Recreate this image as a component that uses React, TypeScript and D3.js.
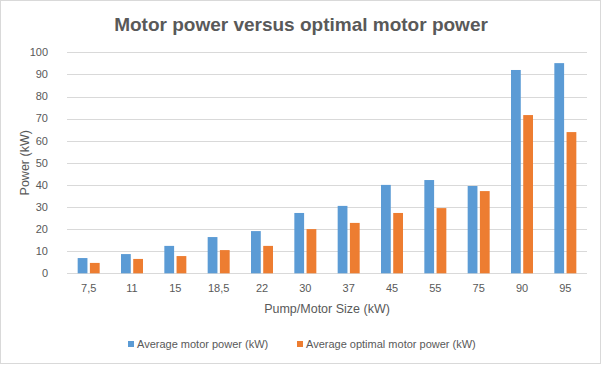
import { useEffect, useRef } from "react";
import * as d3 from "d3";

const categories = ["7,5", "11", "15", "18,5", "22", "30", "37", "45", "55", "75", "90", "95"];
const seriesNames = ["Average motor power (kW)", "Average optimal motor power (kW)"];
const avgPower = [6.9, 8.7, 12.4, 16.4, 19.1, 27.3, 30.5, 40.0, 42.2, 39.5, 92.0, 95.1];
const optimalPower = [4.7, 6.5, 7.8, 10.5, 12.4, 20.0, 22.8, 27.3, 29.5, 37.2, 71.6, 63.9];
const yTicks = [0, 10, 20, 30, 40, 50, 60, 70, 80, 90, 100];
const colors = ["#5b9bd5", "#ed7d31"];

const FONT = "'Liberation Sans', Arial, sans-serif";
const TEXT = "#595959";

export default function App() {
  const ref = useRef<SVGSVGElement | null>(null);

  useEffect(() => {
    document.body.style.margin = "0";
    if (!ref.current) return;
    const width = 602;
    const height = 365;
    const svg = d3.select(ref.current);
    svg.selectAll("*").remove();
    svg.attr("width", width).attr("height", height).style("font-family", FONT);

    const plot = { left: 67, right: 587, top: 52.3, bottom: 273.3 };

    // chart border
    svg.append("rect")
      .attr("x", 0.5).attr("y", 0.5)
      .attr("width", 600).attr("height", 363)
      .attr("fill", "white")
      .attr("stroke", "#d9d9d9");

    const x0 = d3.scaleBand<string>()
      .domain(categories)
      .range([plot.left, plot.right])
      .padding(0);

    const x1 = d3.scaleBand<number>()
      .domain([0, 1])
      .range([-11, 11])
      .paddingInner(0.2)
      .paddingOuter(0);

    const y = d3.scaleLinear()
      .domain([0, 100])
      .range([plot.bottom, plot.top]);

    // gridlines
    svg.append("g")
      .selectAll("line")
      .data(yTicks)
      .join("line")
      .attr("x1", plot.left)
      .attr("x2", plot.right)
      .attr("y1", d => Math.round(y(d)) + 0.5)
      .attr("y2", d => Math.round(y(d)) + 0.5)
      .attr("stroke", "#d9d9d9")
      .attr("stroke-width", 1);

    // y tick labels
    svg.append("g")
      .selectAll("text")
      .data(yTicks)
      .join("text")
      .attr("x", 48)
      .attr("y", d => y(d))
      .attr("dy", "0.35em")
      .attr("text-anchor", "end")
      .attr("font-size", 11)
      .attr("fill", TEXT)
      .text(d => d);

    // bars
    const series = [avgPower, optimalPower];
    series.forEach((vals, si) => {
      svg.append("g")
        .selectAll("rect")
        .data(vals)
        .join("rect")
        .attr("x", (_, i) => x0(categories[i])! + x0.bandwidth() / 2 + x1(si)!)
        .attr("y", d => y(d))
        .attr("width", x1.bandwidth())
        .attr("height", d => y(0) - y(d))
        .attr("fill", colors[si]);
    });

    // x tick labels
    svg.append("g")
      .selectAll("text")
      .data(categories)
      .join("text")
      .attr("x", d => x0(d)! + x0.bandwidth() / 2)
      .attr("y", 292)
      .attr("text-anchor", "middle")
      .attr("font-size", 11)
      .attr("fill", TEXT)
      .text(d => d);

    // title
    svg.append("text")
      .attr("x", 301)
      .attr("y", 31)
      .attr("text-anchor", "middle")
      .attr("font-size", 19)
      .attr("font-weight", "bold")
      .attr("fill", TEXT)
      .text("Motor power versus optimal motor power");

    // axis titles
    svg.append("text")
      .attr("transform", `translate(29,${(plot.top + plot.bottom) / 2}) rotate(-90)`)
      .attr("text-anchor", "middle")
      .attr("font-size", 12.5)
      .attr("fill", TEXT)
      .text("Power (kW)");

    svg.append("text")
      .attr("x", (plot.left + plot.right) / 2)
      .attr("y", 313)
      .attr("text-anchor", "middle")
      .attr("font-size", 12.5)
      .attr("fill", TEXT)
      .text("Pump/Motor Size (kW)");

    // legend
    const legendItems = [
      { x: 128, name: seriesNames[0], color: colors[0] },
      { x: 297, name: seriesNames[1], color: colors[1] },
    ];
    const lg = svg.append("g");
    legendItems.forEach(it => {
      lg.append("rect")
        .attr("x", it.x).attr("y", 341)
        .attr("width", 6).attr("height", 6)
        .attr("fill", it.color);
      lg.append("text")
        .attr("x", it.x + 9)
        .attr("y", 344)
        .attr("dy", "0.35em")
        .attr("font-size", 11)
        .attr("fill", TEXT)
        .text(it.name);
    });
  }, []);

  return <svg ref={ref} />;
}
